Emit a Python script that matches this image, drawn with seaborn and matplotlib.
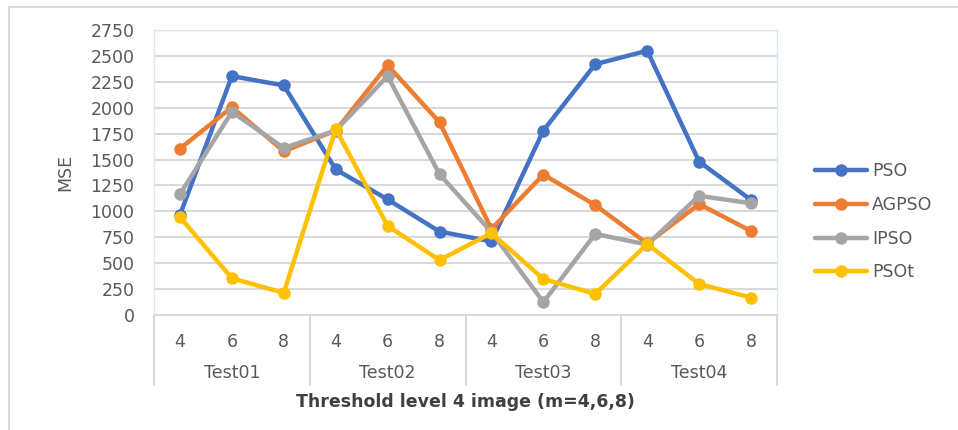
import pandas as pd
import numpy as np
import matplotlib.pyplot as plt
import seaborn as sns
from matplotlib.patches import Rectangle
from matplotlib.transforms import blended_transform_factory

# Chart data
tests = ['Test01', 'Test02', 'Test03', 'Test04']
levels = ['4', '6', '8']
pso = [965, 2305, 2215, 1405, 1115, 805, 710, 1780, 2420, 2550, 1480, 1110]
agpso = [1605, 2005, 1580, 1780, 2410, 1860, 830, 1355, 1060, 690, 1070, 810]
ipso = [1165, 1960, 1612, 1780, 2305, 1358, 800, 125, 782, 680, 1150, 1078]
psot = [945, 355, 213, 1795, 860, 530, 790, 348, 203, 685, 300, 168]
series = {'PSO': pso, 'AGPSO': agpso, 'IPSO': ipso, 'PSOt': psot}
colors = {'PSO': '#4472C4', 'AGPSO': '#ED7D31', 'IPSO': '#A5A5A5', 'PSOt': '#FFC000'}

# long-form table, x = position of each (test, level) category
n = len(tests) * len(levels)
rows = []
for name, vals in series.items():
    for i, v in enumerate(vals):
        rows.append({'pos': i, 'MSE': v, 'method': name})
df = pd.DataFrame(rows)

sns.set_style('white')
plt.rcParams['font.family'] = ['DejaVu Sans']
txt = '#595959'
grid = '#D9D9D9'
fs = 12.5

fig = plt.figure(figsize=(9.58, 4.30), dpi=100)
ax = fig.add_axes([154 / 958, 115 / 430, 623 / 958, 285 / 430])

sns.lineplot(data=df, x='pos', y='MSE', hue='method', palette=colors,
             marker='o', markersize=9, markeredgewidth=0, linewidth=3.2,
             ax=ax, zorder=3)

ax.set_xlim(-0.5, n - 0.5)
ax.set_ylim(0, 2750)
ax.set_yticks(np.arange(0, 2751, 250))
ax.yaxis.grid(True, color=grid, linewidth=1.5, zorder=0)
ax.set_axisbelow(True)
ax.tick_params(axis='y', length=0, pad=14, labelsize=fs, labelcolor=txt)
ax.set_xticks(range(n))
ax.set_xticklabels(levels * len(tests))
ax.tick_params(axis='x', length=0, pad=13, labelsize=fs, labelcolor=txt)

for s in ['top', 'left', 'right']:
    ax.spines[s].set_color('#DCE6F5')
    ax.spines[s].set_linewidth(1)
ax.spines['bottom'].set_color(grid)
ax.spines['bottom'].set_linewidth(1.5)

# group labels and separators under the axis
tr = blended_transform_factory(ax.transData, ax.transAxes)
for g, name in enumerate(tests):
    ax.text(g * 3 + 1, -0.204, name, transform=tr, ha='center', va='center',
            fontsize=fs, color=txt)
for b in range(len(tests) + 1):
    ax.plot([b * 3 - 0.5, b * 3 - 0.5], [0, -0.245], transform=tr,
            color=grid, linewidth=1.5, clip_on=False)

ax.set_ylabel('MSE', fontsize=fs, color=txt, labelpad=12)
ax.set_xlabel('Threshold level 4 image (m=4,6,8)', fontsize=fs,
              fontweight='bold', color='#404040', labelpad=30)

handles, labels = ax.get_legend_handles_labels()
ax.legend(handles, labels, loc='center left', bbox_to_anchor=(815 / 958, 0.484),
          bbox_transform=fig.transFigure, frameon=False, fontsize=fs,
          labelcolor=txt, handlelength=3.0, handletextpad=0.3,
          labelspacing=0.9, borderpad=0, borderaxespad=0)

# outer chart border
fig.patches.append(Rectangle((9 / 958, -0.1), 1.2, 1.1 - 7 / 430, transform=fig.transFigure,
                             fill=False, edgecolor=grid, linewidth=1.5, clip_on=False))

fig.savefig('out.png', dpi=100)
